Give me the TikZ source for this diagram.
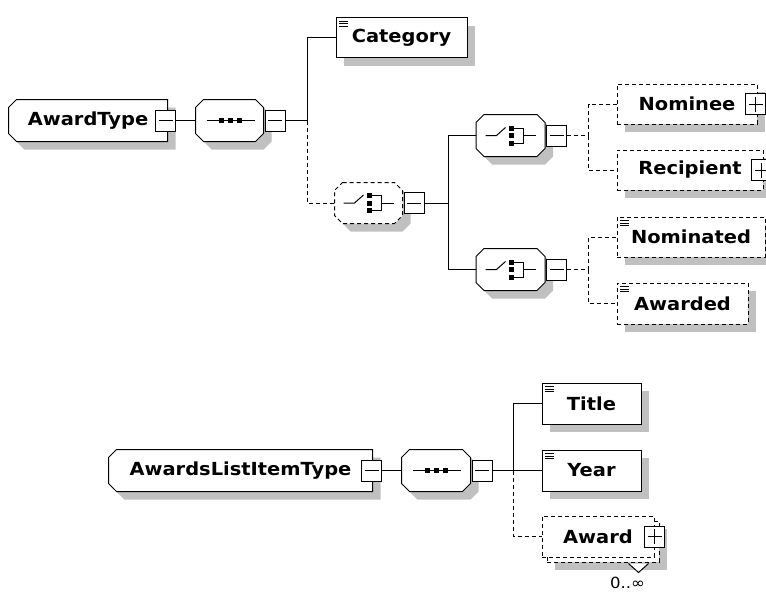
\documentclass[tikz,border=0pt]{standalone}
\usepackage{fontspec}
\usepackage{tikz}
\usetikzlibrary{calc, shadows}
\definecolor{ShadowGrey}{RGB}{192,192,192}
\newfontfamily\labelfont[FakeStretch=1.08]{DejaVu Sans}
\pgfdeclarelayer{back}
\pgfsetlayers{back,main}

\tikzset{
	basebox/.style={draw=black, fill=white, line width=0.75pt, inner sep=0pt,
		font=\labelfont\bfseries\fontsize{13.5}{16}\selectfont},
	shadowed/.style={drop shadow={shadow xshift=6pt, shadow yshift=-6pt, fill=ShadowGrey, opacity=1}},
	boxsize/.style 2 args={minimum width=#1*0.75pt, minimum height=#2*0.75pt},
	elem/.style={basebox, shadowed, rectangle},
	comp/.style={basebox, draw=none, fill=none, rectangle},
	frame/.style={draw=black, fill=white, line width=0.75pt},
	opt/.style={dash pattern=on 3pt off 2.25pt},
	link/.style={line width=0.75pt},
	simple/.style={path picture={
		\foreach \k in {0,1,2}
			\draw[solid, line width=0.75pt] ($ (path picture bounding box.north west)+(3,3.5+2.5*\k) $) -- +(9,0);}},
	pmbox/.style={draw=black, fill=white, line width=0.75pt, solid, inner sep=0pt, minimum width=15pt, minimum height=15.75pt},
	minusbox/.style={pmbox, path picture={
		\draw[line width=0.75pt] ($ (path picture bounding box.west)+(3,0) $) -- ($ (path picture bounding box.east)+(-3,0) $);}},
	plusbox/.style={pmbox, path picture={
		\draw[line width=0.75pt] ($ (path picture bounding box.west)+(3,0) $) -- ($ (path picture bounding box.east)+(-3,0) $);
		\draw[line width=0.75pt] ($ (path picture bounding box.north)+(0,3) $) -- ($ (path picture bounding box.south)+(0,-3) $);}},
}

% chamfered outline + shadow behind a node: node, left chamfer, right chamfer, style
\newcommand{\Frame}[4]{%
	\def\framepath{($ (#1.north west)+(#2,0) $) -- ($ (#1.north east)+(-#3,0) $) -- ($ (#1.north east)+(0,#3) $)
		-- ($ (#1.south east)+(0,-#3) $) -- ($ (#1.south east)+(-#3,0) $) -- ($ (#1.south west)+(#2,0) $)
		-- ($ (#1.south west)+(0,-#2) $) -- ($ (#1.north west)+(0,#2) $) -- cycle}%
	\begin{pgfonlayer}{back}
		\fill[ShadowGrey, transform canvas={shift={(6pt,-6pt)}}] \framepath;
		\filldraw[frame, #4] \framepath;
	\end{pgfonlayer}
}
% sequence compositor icon
\newcommand{\SeqIcon}[1]{%
	\draw[link] ($ (#1)+(-23,0) $) -- +(48,0);
	\foreach \dx in {-9,0,9}
		\fill ($ (#1)+(\dx+0.5,0) $) +(-2.5,-2.5) rectangle +(2.5,2.5);
}
% choice compositor icon
\newcommand{\ChoiceIcon}[1]{%
	\draw[link] ($ (#1)+(-25,0) $) -- ++(11,0) -- ++(9,-8);
	\foreach \dy in {-7.5,0,7.5}
		\fill ($ (#1)+(0.5,\dy) $) +(-2.5,-2.5) rectangle +(2.5,2.5);
	\draw[link] ($ (#1)+(3,-7.5) $) -- ++(10,0) -- ++(0,15) -- ++(-10,0);
	\draw[link] ($ (#1)+(13,0) $) -- ++(12,0);
}

\begin{document}
\begin{tikzpicture}[x=0.75pt, y=-0.75pt]
	\useasboundingbox (0,0) rectangle (766,592);

	% AwardType
	\node[comp, boxsize={158}{41}] (awardType) at (88,120.5) {AwardType};
	\Frame{awardType}{8}{0}{}
	\node[minusbox] (awardType-m) at ($ (awardType.east)+(-2,0) $) {};

	\node[comp, boxsize={67}{41}] (seqA) at (229.5,120.5) {};
	\Frame{seqA}{8}{8}{}
	\node[minusbox, anchor=west] (seqA-m) at ($ (seqA.east)+(1,0) $) {};
	\SeqIcon{seqA}
	\coordinate (busA) at ($ (seqA-m.east)+(22,0) $);

	\node[elem, simple, boxsize={131}{40}] (category) at (401.5,38) {Category};

	\node[comp, boxsize={67}{40}] (choiceA) at (368.5,203) {};
	\Frame{choiceA}{8}{8}{opt}
	\node[minusbox, anchor=west] (choiceA-m) at ($ (choiceA.east)+(1,0) $) {};
	\ChoiceIcon{choiceA}
	\coordinate (busB) at ($ (choiceA-m.east)+(24,0) $);

	\node[comp, boxsize={68}{41}] (choiceB) at (510.5,135.5) {};
	\Frame{choiceB}{8}{8}{}
	\node[minusbox, anchor=west] (choiceB-m) at ($ (choiceB.east)+(1,0) $) {};
	\ChoiceIcon{choiceB}
	\coordinate (busC) at ($ (choiceB-m.east)+(21.5,0) $);

	\node[comp, boxsize={68}{41}] (choiceC) at (510.5,269.5) {};
	\Frame{choiceC}{8}{8}{}
	\node[minusbox, anchor=west] (choiceC-m) at ($ (choiceC.east)+(1,0) $) {};
	\ChoiceIcon{choiceC}
	\coordinate (busD) at ($ (choiceC-m.east)+(21.5,0) $);

	\node[elem, opt, boxsize={140}{40}] (nominee) at (687,104) {Nominee};
	\node[plusbox] (nominee-p) at ($ (nominee.east)+(-2,0) $) {};
	\node[elem, opt, boxsize={146}{40}] (recipient) at (690,170) {Recipient};
	\node[plusbox] (recipient-p) at ($ (recipient.east)+(-2,0) $) {};
	\node[elem, opt, simple, boxsize={148}{40}] (nominated) at (691,237) {Nominated};
	\node[elem, opt, simple, boxsize={131}{41}] (awarded) at (682.5,303.5) {Awarded};

	\draw[link] (awardType-m) -- (seqA);
	\draw[link] (seqA-m) -- (busA);
	\draw[link] (busA) |- (category.west);
	\draw[link, opt] (busA) |- (choiceA.west);
	\draw[link] (choiceA-m) -- (busB);
	\draw[link] (busB) |- (choiceB.west);
	\draw[link] (busB) |- (choiceC.west);
	\draw[link, opt] (choiceB-m) -- (busC);
	\draw[link, opt] (busC) |- (nominee.west);
	\draw[link, opt] (busC) |- (recipient.west);
	\draw[link, opt] (choiceC-m) -- (busD);
	\draw[link, opt] (busD) |- (nominated.west);
	\draw[link, opt] (busD) |- (awarded.west);

	% AwardsListItemType
	\node[comp, boxsize={263}{41}] (listType) at (240.5,470.5) {AwardsListItemType};
	\Frame{listType}{8}{0}{}
	\node[minusbox] (listType-m) at ($ (listType.east)+(-1,0) $) {};

	\node[comp, boxsize={68}{41}] (seqB) at (436,470.5) {};
	\Frame{seqB}{8}{8}{}
	\node[minusbox, anchor=west] (seqB-m) at ($ (seqB.east)+(1,0) $) {};
	\SeqIcon{seqB}
	\coordinate (busE) at ($ (seqB-m.east)+(21,0) $);

	\node[elem, simple, boxsize={99}{41}] (title) at (591.5,403.5) {Title};
	\node[elem, simple, boxsize={99}{41}] (year) at (591.5,470.5) {Year};
	\node[elem, opt, boxsize={112}{41}] (awardBack) at (603,541.5) {};
	\node[basebox, opt, boxsize={112}{41}] (award) at (598,536.5) {Award};
	\node[plusbox] (award-p) at (award.east) {};
	\draw[link, fill=white] ($ (awardBack.south east)+(-31,1) $) -- ++(10,9) -- ++(10,-9);
	\node[font=\labelfont\fontsize{11.5}{13}\selectfont, inner sep=0pt] (occurs) at ($ (awardBack.south east)+(-32,20.5) $) {0..∞};

	\draw[link] (listType-m) -- (seqB);
	\draw[link] (seqB-m) -- (busE);
	\draw[link] (busE) |- (title.west);
	\draw[link] (busE) -- (year.west);
	\draw[link, opt] (busE) |- (award.west);

\end{tikzpicture}
\end{document}
